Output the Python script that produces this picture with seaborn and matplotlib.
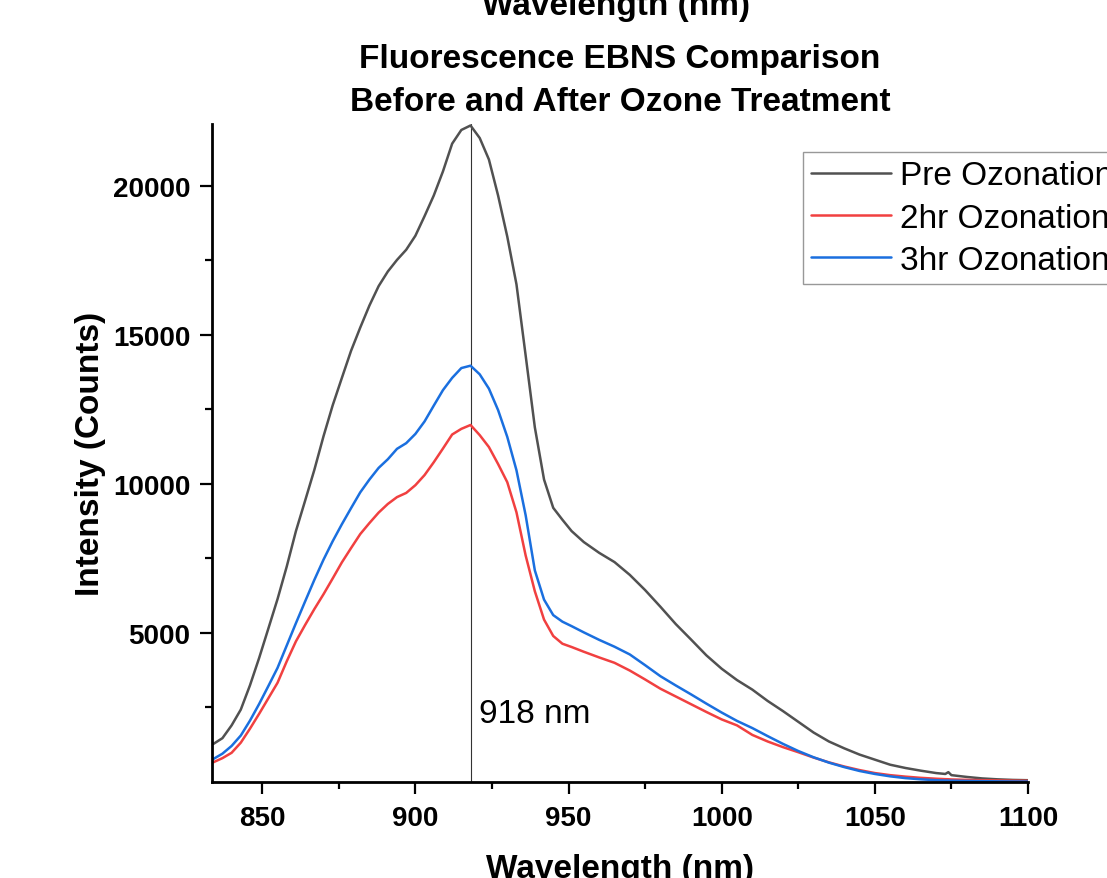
import numpy as np
import pandas as pd
import seaborn as sns
import matplotlib.pyplot as plt

sns.set_style("ticks")
plt.rcParams['font.family'] = ['Liberation Sans', 'DejaVu Sans']
plt.rcParams.update({'text.color': 'black', 'axes.labelcolor': 'black',
                     'xtick.color': 'black', 'ytick.color': 'black',
                     'axes.edgecolor': 'black'})

# wavelength grid (nm)
wavelength = [834, 837, 840, 843, 846, 849, 852, 855, 858, 861, 864, 867, 870, 873,
              876, 879, 882, 885, 888, 891, 894, 897, 900, 903, 906, 909, 912, 915,
              918, 921, 924, 927, 930, 933, 936, 939, 942, 945, 948, 951,
              955, 960, 965, 970, 975, 980, 985, 990, 995, 1000, 1005, 1010, 1015, 1020,
              1025, 1030, 1035, 1040, 1045, 1050, 1055, 1060, 1065, 1070,
              1073, 1074, 1075, 1080, 1085, 1090, 1095, 1100]

pre_ozonation = [1275, 1470, 1900, 2430, 3245, 4165, 5150, 6140, 7230, 8420, 9440, 10470, 11600, 12640,
                 13560, 14470, 15250, 15990, 16640, 17130, 17520, 17860, 18330, 18990, 19680, 20490, 21420, 21880,
                 22030, 21610, 20890, 19680, 18300, 16700, 14310, 11900, 10150, 9200, 8800, 8420,
                 8050, 7690, 7380, 6950, 6440, 5880, 5300, 4780, 4250, 3800, 3420, 3100, 2720, 2380,
                 2020, 1660, 1360, 1130, 920, 750, 580, 470, 380, 300,
                 270, 330, 230, 170, 120, 90, 70, 60]

ozonation_2hr = [660, 800, 980, 1320, 1790, 2290, 2810, 3330, 4050, 4720, 5270, 5800, 6300, 6830,
                 7370, 7850, 8320, 8690, 9040, 9330, 9560, 9700, 9960, 10300, 10730, 11190, 11660, 11850,
                 11980, 11640, 11240, 10670, 10060, 9050, 7600, 6400, 5450, 4900, 4640, 4530,
                 4370, 4180, 4000, 3740, 3440, 3130, 2870, 2610, 2350, 2100, 1900, 1580, 1360, 1170,
                 1000, 820, 660, 520, 400, 300, 230, 180, 140, 110,
                 95, 92, 85, 72, 60, 52, 45, 40]

ozonation_3hr = [770, 950, 1210, 1560, 2060, 2620, 3220, 3830, 4580, 5330, 6060, 6780, 7460, 8080,
                 8650, 9190, 9720, 10150, 10540, 10830, 11180, 11370, 11680, 12100, 12630, 13150, 13560, 13890,
                 13970, 13680, 13200, 12480, 11580, 10460, 8950, 7100, 6120, 5600, 5380, 5230,
                 5020, 4770, 4540, 4280, 3920, 3550, 3240, 2940, 2630, 2330, 2050, 1810, 1540, 1280,
                 1040, 830, 650, 500, 370, 270, 190, 130, 90, 60,
                 50, 48, 45, 35, 28, 22, 18, 15]

samples = ["Pre Ozonation", "2hr Ozonation", "3hr Ozonation"]
colors = ["#515151", "#F14040", "#1A6FDF"]
peak_nm = 918

df = pd.DataFrame({
    'Wavelength': wavelength * 3,
    'Intensity': pre_ozonation + ozonation_2hr + ozonation_3hr,
    'Sample': [s for s in samples for _ in wavelength],
})

fig = plt.figure(figsize=(11.07, 8.79), dpi=100)
ax = fig.add_axes([212 / 1107, 96 / 879, 816 / 1107, 658 / 879])

sns.lineplot(data=df, x='Wavelength', y='Intensity', hue='Sample', hue_order=samples,
             palette=colors, linewidth=1.8, estimator=None, sort=False, legend=False, ax=ax)
curves = list(ax.lines[:3])

ax.axvline(peak_nm, color='#333333', lw=0.8, zorder=1)
ax.text(peak_nm + 2.7, 2300, '918 nm', fontsize=24, va='center', ha='left')

ax.set_xlim(833.6, 1100)
ax.set_ylim(0, 22080)
ax.set_xticks(np.arange(850, 1101, 50))
ax.set_xticks(np.arange(875, 1100, 50), minor=True)
ax.set_yticks(np.arange(5000, 20001, 5000))
ax.set_yticks(np.arange(2500, 20000, 5000), minor=True)

for side in ['top', 'right']:
    ax.spines[side].set_visible(False)
for side in ['left', 'bottom']:
    ax.spines[side].set_linewidth(2)

ax.tick_params(which='major', direction='out', length=8.5, width=1.6, labelsize=20)
ax.tick_params(which='minor', direction='out', length=5, width=1.6)
ax.tick_params(axis='x', which='major', pad=8)
ax.tick_params(axis='y', which='major', pad=7)
for lbl in ax.get_xticklabels() + ax.get_yticklabels():
    lbl.set_fontweight('bold')

ax.set_xlabel('Wavelength (nm)', fontsize=24, fontweight='bold', labelpad=16)
ax.set_ylabel('Intensity (Counts)', fontsize=24, fontweight='bold', labelpad=5)
ax.set_title('Fluorescence EBNS Comparison\nBefore and After Ozone Treatment',
             fontsize=24, fontweight='bold', pad=10, linespacing=1.5)
fig.text(616 / 1107, 1 - 15 / 879, 'Wavelength (nm)', fontsize=24, fontweight='bold',
         ha='center', va='baseline')

leg = ax.legend(handles=curves, labels=samples, loc='upper left',
                bbox_to_anchor=(803 / 1107, 1 - 153 / 879), bbox_transform=fig.transFigure,
                fontsize=24, frameon=True, fancybox=False, edgecolor='#7f7f7f',
                handlelength=2.4, handletextpad=0.25, labelspacing=0.34,
                borderpad=0.25, borderaxespad=0)
leg.get_frame().set_linewidth(1.0)

fig.savefig('out.png', dpi=100)
